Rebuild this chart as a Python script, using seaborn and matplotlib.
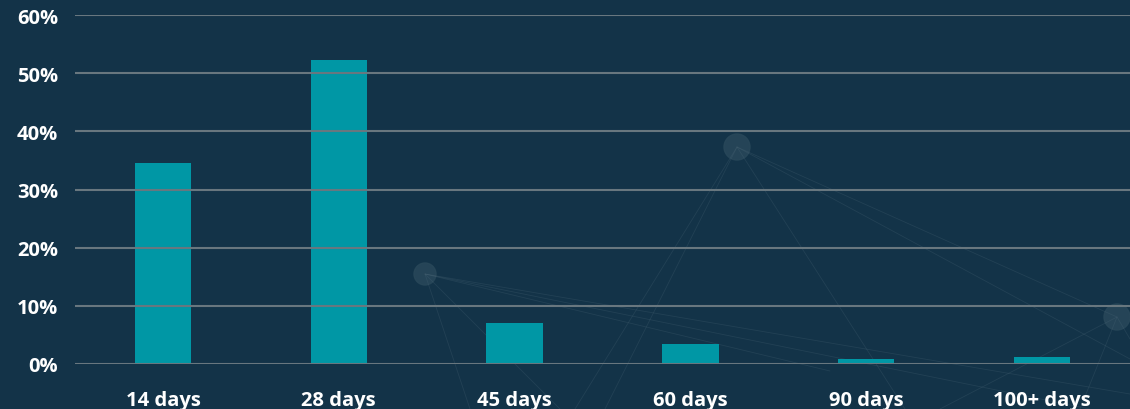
import matplotlib
matplotlib.use("Agg")
import matplotlib.pyplot as plt
import seaborn as sns
import pandas as pd
from matplotlib.ticker import FuncFormatter

# data
periods = ["14 days", "28 days", "45 days", "60 days", "90 days", "100+ days"]
share = [34.5, 52.3, 7.1, 3.4, 0.9, 1.25]
y_ticks = [0, 10, 20, 30, 40, 50, 60]

df = pd.DataFrame({"period": periods, "share": share})

bg = "#133348"
bar_color = "#0097a5"
grid_color = "#68777f"

sns.set_theme(style="dark")
plt.rcParams["font.family"] = ["Open Sans", "DejaVu Sans"]

fig = plt.figure(figsize=(11.3, 4.1), dpi=100, facecolor=bg)

# faint "particles" decoration behind the chart (figure pixel coords, top-left origin)
deco = fig.add_axes([0, 0, 1, 1], zorder=0)
deco.set_xlim(0, 1130)
deco.set_ylim(410, 0)
deco.axis("off")
nodes = [(425, 275, 11), (737, 148, 13), (1117, 318, 13)]
links = [((425, 275), (470, 410)), ((425, 275), (560, 410)), ((425, 275), (830, 372)),
         ((425, 275), (1090, 410)), ((425, 275), (1130, 395)),
         ((737, 148), (575, 410)), ((737, 148), (605, 410)), ((737, 148), (905, 410)),
         ((737, 148), (1117, 318)), ((737, 148), (1130, 360)),
         ((1117, 318), (940, 410)), ((1117, 318), (1080, 410)), ((1117, 318), (1130, 340))]
for (x0, y0), (x1, y1) in links:
    deco.plot([x0, x1], [y0, y1], color="#4f6a7a", lw=0.6, alpha=0.25)
for x, y, r in nodes:
    deco.add_patch(plt.Circle((x, y), r, color="#284759", alpha=0.9))

ax = fig.add_axes([0.0664, 0.1098, 0.9336, 0.851], zorder=1)
ax.patch.set_alpha(0)

sns.barplot(data=df, x="period", y="share", color=bar_color, saturation=1,
            width=0.32, linewidth=0, ax=ax, zorder=2)

ax.set_ylim(0, 60)
ax.set_xlim(-0.5, 5.5)
ax.set_yticks(y_ticks)
ax.yaxis.set_major_formatter(FuncFormatter(lambda v, _: f"{v:.0f}%"))
ax.grid(axis="y", color=grid_color, lw=1.5, zorder=3)
ax.grid(axis="x", visible=False)
ax.set_axisbelow(False)
for s in ax.spines.values():
    s.set_visible(False)
ax.set_xlabel("")
ax.set_ylabel("")
ax.tick_params(axis="y", colors="white", labelsize=14.5, pad=12, length=0)
ax.tick_params(axis="x", colors="white", labelsize=14.5, pad=19, length=0)
for lab in ax.get_xticklabels() + ax.get_yticklabels():
    lab.set_fontweight("bold")

fig.savefig("out.png", dpi=100, facecolor=bg)
